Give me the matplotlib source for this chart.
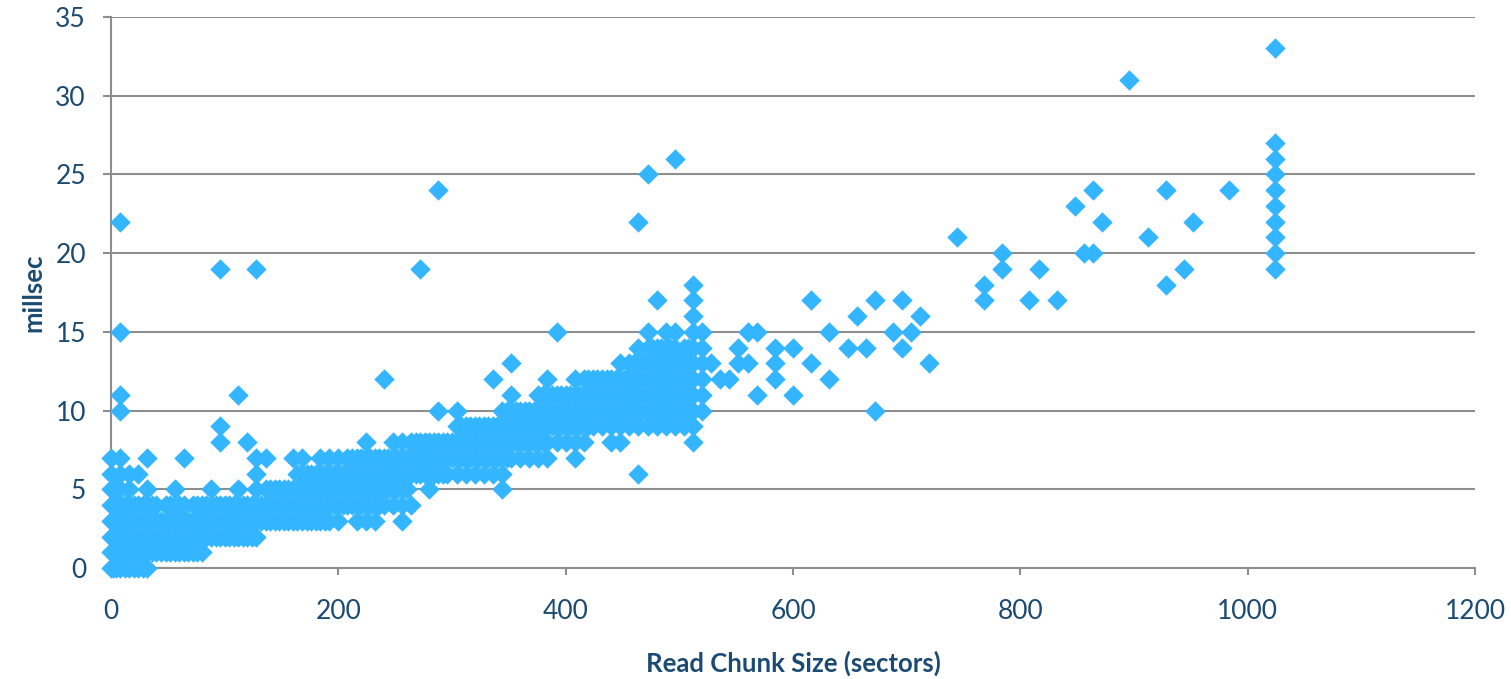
import matplotlib
matplotlib.use("Agg")
import matplotlib.pyplot as plt

# ===================== Data (read chunk size in sectors -> latency in ms) =====================
# each entry: (chunk size, [observed latencies at that size])

small_reads = [
    (0, [0, 1, 2, 3, 4, 5, 6, 7]),
    (2, [0, 1, 2, 3, 4]),
    (4, [0, 1, 2, 3, 4, 5]),
    (8, [0, 1, 2, 3, 4, 5, 6, 7, 10, 11, 15, 22]),
    (16, [0, 1, 2, 3, 4, 5, 6]),
    (24, [0, 1, 2, 3, 4, 6]),
    (32, [0, 1, 2, 3, 4, 5, 7]),
    (40, [1, 2, 3, 4]),
    (48, [1, 2, 3, 4]),
    (56, [1, 2, 3, 4, 5]),
    (64, [1, 2, 3, 4, 7]),
    (72, [1, 2, 3, 4]),
    (80, [1, 2, 3, 4]),
    (88, [2, 3, 4, 5]),
    (96, [2, 3, 4, 8, 9, 19]),
    (104, [2, 3, 4]),
    (112, [2, 3, 4, 5, 11]),
    (120, [2, 3, 4, 8]),
    (128, [2, 3, 4, 5, 6, 7, 19]),
]

mid_reads = [
    (136, [3, 4, 5, 7]),
    (144, [3, 4, 5]),
    (152, [3, 4, 5]),
    (160, [3, 4, 5, 7]),
    (168, [3, 4, 5, 6, 7]),
    (176, [3, 4, 5, 6]),
    (184, [3, 4, 5, 6, 7]),
    (192, [3, 4, 5, 6, 7]),
    (200, [3, 4, 5, 6, 7]),
    (208, [4, 5, 6, 7]),
    (216, [3, 4, 5, 6, 7]),
    (224, [3, 4, 5, 6, 7, 8]),
    (232, [3, 4, 5, 6, 7]),
    (240, [4, 5, 6, 7, 12]),
    (248, [4, 5, 6, 7, 8]),
    (256, [3, 4, 5, 6, 7, 8]),
    (264, [4, 6, 7, 8]),
    (272, [6, 7, 8, 19]),
    (280, [5, 6, 7, 8]),
    (288, [6, 7, 8, 10, 24]),
    (296, [6, 7, 8]),
]

large_reads = [
    (304, [6, 7, 8, 9, 10]),
    (312, [6, 7, 8, 9]),
    (320, [6, 7, 8, 9]),
    (328, [6, 7, 8, 9]),
    (336, [6, 7, 8, 9, 12]),
    (344, [5, 6, 7, 8, 9, 10]),
    (352, [7, 8, 9, 10, 11, 13]),
    (360, [7, 8, 9, 10]),
    (368, [7, 8, 9, 10]),
    (376, [7, 8, 9, 10, 11]),
    (384, [7, 8, 9, 10, 11, 12]),
    (392, [8, 9, 10, 11, 15]),
    (400, [8, 9, 10, 11]),
    (408, [7, 8, 9, 10, 11, 12]),
    (416, [8, 9, 10, 11, 12]),
    (424, [9, 10, 11, 12]),
    (432, [9, 10, 11, 12]),
    (440, [8, 9, 10, 11, 12]),
    (448, [8, 9, 10, 11, 12, 13]),
    (456, [9, 10, 11, 12, 13]),
    (464, [6, 9, 10, 11, 12, 13, 14, 22]),
    (472, [9, 10, 11, 12, 13, 14, 15, 25]),
    (480, [9, 10, 11, 12, 13, 14, 17]),
    (488, [9, 10, 11, 12, 13, 14, 15]),
    (496, [9, 10, 11, 12, 13, 14, 15, 26]),
    (504, [9, 10, 11, 12, 13, 14]),
    (512, [8, 9, 10, 11, 12, 13, 14, 15, 16, 17, 18]),
    (520, [10, 11, 12, 13, 14, 15]),
]

# odd-sized reads that sit between the main columns of the dense band
between_reads = [
    (12, [0, 1, 2, 3, 4]), (20, [0, 1, 2, 3, 4]), (28, [0, 1, 2, 3, 4]),
    (36, [1, 2, 3, 4]), (44, [1, 2, 3]), (52, [1, 2, 3, 4]), (60, [1, 2, 3, 4]),
    (68, [1, 2, 3]), (76, [1, 2, 3, 4]), (84, [2, 3, 4]), (92, [2, 3, 4]),
    (100, [2, 3, 4]), (108, [2, 3, 4]), (116, [2, 3, 4]), (124, [2, 3, 4]),
    (132, [3, 4]), (140, [3, 4, 5]), (148, [3, 4, 5]), (156, [3, 4, 5]),
    (164, [3, 4, 5, 6]), (172, [3, 4, 5, 6]), (180, [3, 4, 5, 6]),
    (188, [3, 4, 5, 6]), (196, [4, 5, 6]), (204, [4, 5, 6]), (212, [4, 5, 6, 7]),
    (220, [4, 5, 6, 7]), (228, [4, 5, 6, 7]), (236, [4, 5, 6, 7]),
    (244, [5, 6, 7]), (252, [5, 6, 7]), (260, [5, 6, 7]), (268, [6, 7, 8]),
    (276, [6, 7, 8]), (284, [6, 7, 8]), (292, [6, 7, 8]), (300, [7, 8]),
    (308, [7, 8, 9]), (316, [7, 8, 9]), (324, [7, 8, 9]), (332, [7, 8, 9]),
    (340, [7, 8, 9]), (348, [7, 8, 9, 10]), (356, [8, 9, 10]), (364, [8, 9, 10]),
    (372, [8, 9, 10]), (380, [8, 9, 10, 11]), (388, [9, 10, 11]),
    (396, [9, 10, 11]), (404, [9, 10, 11]), (412, [9, 10, 11]),
    (420, [9, 10, 11, 12]), (428, [10, 11, 12]), (436, [10, 11, 12]),
    (444, [10, 11, 12]), (452, [10, 11, 12]), (460, [10, 11, 12, 13]),
    (468, [10, 11, 12, 13]), (476, [10, 11, 12, 13, 14]),
    (484, [10, 11, 12, 13, 14]), (492, [10, 11, 12, 13, 14]),
    (500, [10, 11, 12, 13]), (508, [10, 11, 12, 13, 14]),
]

sparse_reads = [
    (528, [13]), (536, [12]), (544, [12]), (552, [13, 14]), (560, [13, 15]),
    (568, [11, 15]), (584, [12, 13, 14]), (600, [11, 14]), (616, [13, 17]),
    (632, [12, 15]), (648, [14]), (656, [16]), (664, [14]), (672, [10, 17]),
    (688, [15]), (696, [14, 17]), (704, [15]), (712, [16]), (720, [13]),
    (744, [21]), (768, [17, 18]), (784, [19, 20]), (808, [17]), (816, [19]),
    (832, [17]), (848, [23]), (856, [20]), (864, [20, 24]), (872, [22]),
    (896, [31]), (912, [21]), (928, [18, 24]), (944, [19]), (952, [22]),
    (984, [24]),
    (1024, [19, 20, 21, 22, 23, 24, 25, 26, 27, 33]),
]

x_ticks = [0, 200, 400, 600, 800, 1000, 1200]
y_ticks = [0, 5, 10, 15, 20, 25, 30, 35]

# ===================== Flatten =====================

xs, ys = [], []
for group in (small_reads, mid_reads, large_reads, between_reads, sparse_reads):
    for size, lat in group:
        for v in lat:
            xs.append(size)
            ys.append(v)

# ===================== Plot =====================

plt.rcParams["font.family"] = ["Lato", "DejaVu Sans"]

text_col = "#1b4a72"
grid_col = "#8e8e8e"
point_col = "#33b5ff"

fig = plt.figure(figsize=(15.11, 6.79), dpi=100)
ax = fig.add_axes([111 / 1511, 1 - 568 / 679, (1475 - 111) / 1511, (568 - 17) / 679])

ax.scatter(xs, ys, marker="D", s=108, color=point_col, linewidths=0,
           zorder=3, clip_on=False)

ax.set_xlim(0, 1200)
ax.set_ylim(0, 35)
ax.set_xticks(x_ticks)
ax.set_yticks(y_ticks)

ax.grid(True, axis="y", color=grid_col, linewidth=1.5, zorder=0)
ax.set_axisbelow(True)

for side in ["top", "right"]:
    ax.spines[side].set_visible(False)
for side in ["left", "bottom"]:
    ax.spines[side].set_color(grid_col)
    ax.spines[side].set_linewidth(1.5)

ax.tick_params(axis="y", direction="out", length=6, width=1.5, color=grid_col,
               labelsize=19, labelcolor=text_col, pad=12)
ax.tick_params(axis="x", direction="out", length=5, width=1.5, color=grid_col,
               labelsize=19, labelcolor=text_col, pad=17)

ax.set_xlabel("Read Chunk Size (sectors)", fontsize=18.5, fontweight="bold",
              color=text_col, va="center")
ax.set_ylabel("millsec", fontsize=18.5, fontweight="bold", color=text_col,
              va="center")
ax.xaxis.set_label_coords(0.5, (568 - 663) / 551)
ax.yaxis.set_label_coords((33 - 111) / 1364, 0.5)

fig.savefig("out.png", dpi=100)
plt.close(fig)
